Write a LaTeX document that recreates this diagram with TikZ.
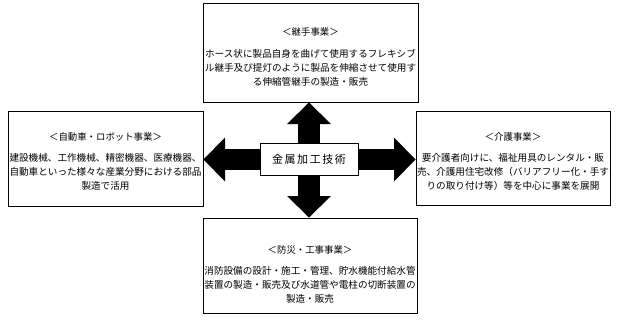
\documentclass[tikz,border=0pt]{standalone}
\usepackage{fontspec}
\usetikzlibrary{arrows.meta}
\newfontfamily\jp{Noto Sans CJK JP}
\newfontfamily\jpwide[LetterSpace=14]{Noto Sans CJK JP}
\begin{document}
\begin{tikzpicture}[x=1pt,y=-1pt,
  box/.style={draw=black, line width=1pt, fill=white, inner sep=0pt},
  ttl/.style={font=\jp\fontsize{9.4}{12}\selectfont, inner sep=0pt},
  body/.style={font=\jp\fontsize{9.6}{13.8}\selectfont, align=center, inner sep=0pt},
  bigarrow/.style={line width=21.5pt, black, -{Triangle[width=44pt,length=21.5pt,line width=0pt]}}
]
\useasboundingbox (0,0) rectangle (618,321);
% boxes
\node[box, minimum width=215pt, minimum height=98pt] (topb) at (310.5,53) {};
\node[box, minimum width=195pt, minimum height=95pt] (leftb) at (105.5,158.5) {};
\node[box, minimum width=194pt, minimum height=94pt] (rightb) at (513,158) {};
\node[box, minimum width=214pt, minimum height=95pt] (botb) at (310,265.5) {};
% hub position
\coordinate (hubc) at (309,159.5);
\node[minimum width=98pt, minimum height=32pt, inner sep=0pt] (hubref) at (hubc) {};
% arrows
\draw[bigarrow] (hubref.north) -- (hubref.north |- topb.south);
\draw[bigarrow] (hubref.south) -- (hubref.south |- botb.north);
\draw[bigarrow] (hubref.west) -- (hubref.west -| leftb.east);
\draw[bigarrow] (hubref.east) -- (hubref.east -| rightb.west);
% hub
\node[box, minimum width=98pt, minimum height=32pt, font=\jpwide\fontsize{11}{13}\selectfont] (hub) at (hubc) {金属加工技術};
% texts
\node[ttl] (toptitle) at (310.5,32) {＜継手事業＞};
\node[body] (topbody) at (310.5,68) {ホース状に製品自身を曲げて使用するフレキシブ\\ル継手及び提灯のように製品を伸縮させて使用す\\る伸縮管継手の製造・販売};
\node[ttl] (lefttitle) at (105.5,137) {＜自動車・ロボット事業＞};
\node[body] (leftbody) at (105.5,172) {建設機械、工作機械、精密機器、医療機器、\\自動車といった様々な産業分野における部品\\製造で活用};
\node[ttl] (righttitle) at (513,137) {＜介護事業＞};
\node[body] (rightbody) at (513,172) {要介護者向けに、福祉用具のレンタル・販\\売、介護用住宅改修（バリアフリー化・手す\\りの取り付け等）等を中心に事業を展開};
\node[ttl] (bottitle) at (310,250) {＜防災・工事事業＞};
\node[body] (botbody) at (310,285) {消防設備の設計・施工・管理、貯水機能付給水管\\装置の製造・販売及び水道管や電柱の切断装置の\\製造・販売};
\end{tikzpicture}
\end{document}
